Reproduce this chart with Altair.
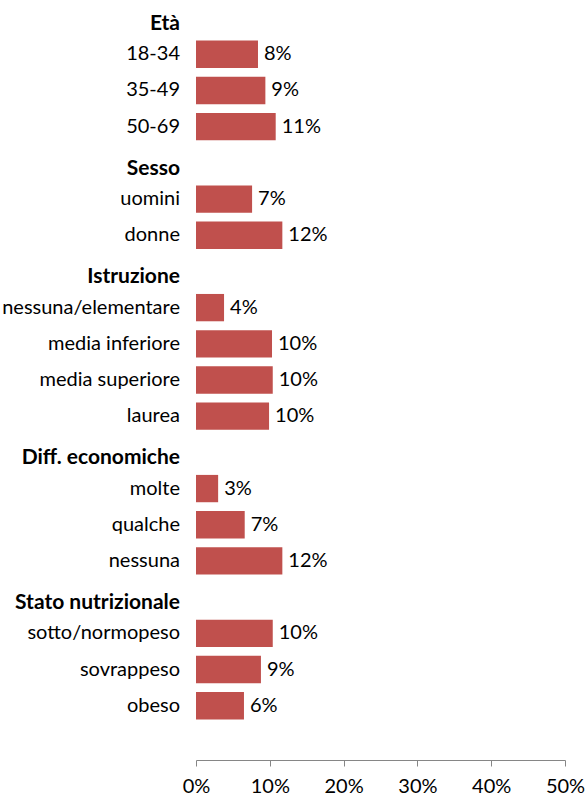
import altair as alt
import pandas as pd

# ---- data ----
groups = ["Età", "Sesso", "Istruzione", "Diff. economiche", "Stato nutrizionale"]
group_items = [
    ["18-34", "35-49", "50-69"],
    ["uomini", "donne"],
    ["nessuna/elementare", "media inferiore", "media superiore", "laurea"],
    ["molte", "qualche", "nessuna"],
    ["sotto/normopeso", "sovrappeso", "obeso"],
]
group_values = [
    [0.084, 0.094, 0.108],
    [0.076, 0.117],
    [0.038, 0.103, 0.104, 0.099],
    [0.030, 0.066, 0.117],
    [0.104, 0.088, 0.065],
]
group_labels = [
    ["8%", "9%", "11%"],
    ["7%", "12%"],
    ["4%", "10%", "10%", "10%"],
    ["3%", "7%", "12%"],
    ["10%", "9%", "6%"],
]
x_ticks = [0, 0.1, 0.2, 0.3, 0.4, 0.5]

# ---- tables ----
order = []
bar_rows = []
for g, items, vals, labs in zip(groups, group_items, group_values, group_labels):
    order.append(g)
    for it, v, lb in zip(items, vals, labs):
        order.append(it)
        bar_rows.append({"row": it, "value": v, "label": lb})
order.append(" ")  # empty slot below the last bar

bars_df = pd.DataFrame(bar_rows)
head_df = pd.DataFrame({"row": groups})

FONT = "Lato"
RED = "#C0504D"
GREY = "#868686"

yscale = alt.Scale(domain=order, paddingInner=0.245, paddingOuter=0.1225)
Y = alt.Y("row:N", sort=order, scale=yscale, axis=None)

bars = alt.Chart(bars_df).mark_bar(color=RED).encode(
    x=alt.X(
        "value:Q",
        scale=alt.Scale(domain=[0, 0.5], nice=False),
        axis=alt.Axis(
            values=x_ticks, format=".0%", grid=False, title=None,
            domainColor=GREY, tickColor=GREY, tickSize=6,
            labelFont=FONT, labelFontSize=20, labelColor="black",
            labelPadding=10, labelFlush=False, labelOverlap=False,
        ),
    ),
    y=Y,
)

pct = alt.Chart(bars_df).mark_text(
    align="left", baseline="middle", dx=6, font=FONT, fontSize=20, color="black"
).encode(x="value:Q", y=Y, text="label:N")

cat = alt.Chart(bars_df).mark_text(
    align="right", baseline="middle", font=FONT, fontSize=20, color="black"
).encode(x=alt.value(-16), y=Y, text="row:N")

head = alt.Chart(head_df).mark_text(
    align="right", baseline="middle", dy=6, font=FONT, fontSize=21,
    fontWeight="bold", color="black"
).encode(x=alt.value(-16), y=Y, text="row:N")

chart = alt.layer(bars, pct, cat, head).properties(
    width=369, height=760,
    autosize=alt.AutoSizeParams(type="none"),
    padding={"left": 196, "top": 0, "right": 20, "bottom": 38},
).configure_view(stroke=None)

chart.save("out.html", embed_options={"renderer": "svg", "actions": False})
